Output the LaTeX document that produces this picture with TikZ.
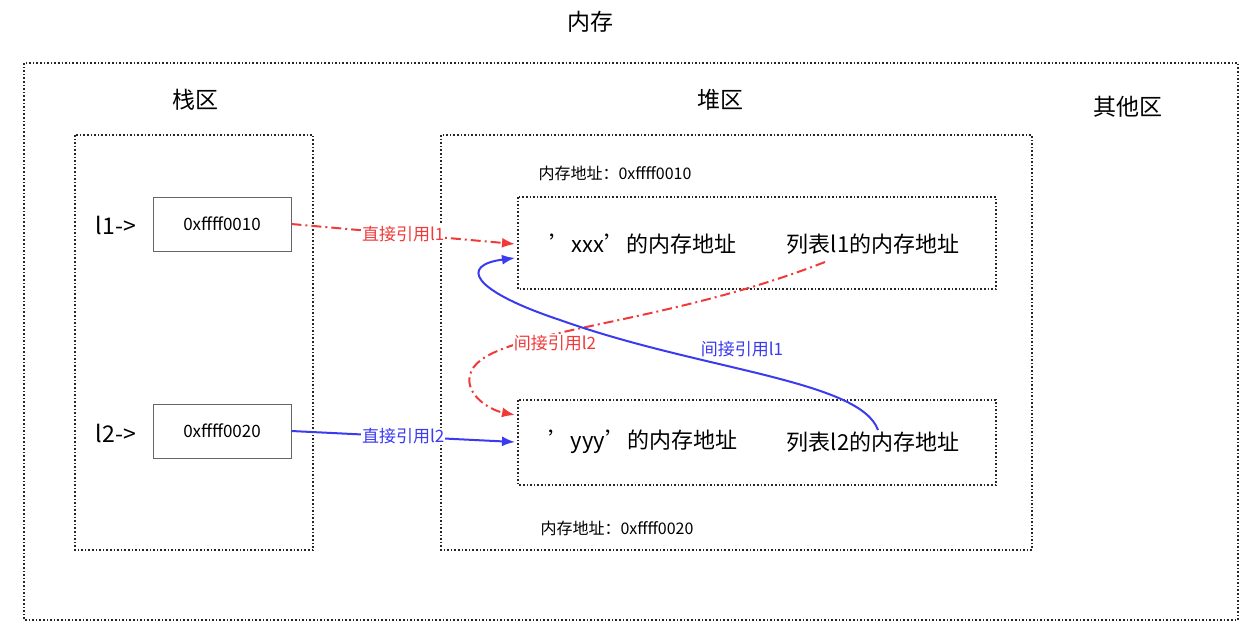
\documentclass[tikz,border=0pt]{standalone}
\usepackage{fontspec}
\setmainfont{Noto Sans CJK SC}
\usetikzlibrary{arrows.meta}
\definecolor{rd}{HTML}{F03A3A}
\definecolor{bl}{HTML}{3A3AF0}
\tikzset{
  dotbox/.style={draw=black!85,line width=1.6pt,dotted},
  addrbox/.style={draw=black!60,line width=0.9pt,minimum width=138pt,minimum height=54pt,font=\fontsize{17}{19}\selectfont},
  lab/.style={font=\fontsize{22}{25}\selectfont},
  small/.style={font=\fontsize{16}{18}\selectfont},
  big/.style={font=\fontsize{23}{26}\selectfont},
  redarr/.style={rd,line width=2pt,dash pattern=on 10pt off 4pt on 2pt off 4pt,-{Latex[length=13pt,width=10pt]}},
  bluearr/.style={bl,line width=2pt,-{Latex[length=13pt,width=10pt]}},
  rlab/.style={text=rd,font=\fontsize{17}{19}\selectfont,fill=white,inner sep=1pt},
  blab/.style={text=bl,font=\fontsize{17}{19}\selectfont,fill=white,inner sep=1pt},
}
\begin{document}
\begin{tikzpicture}[x=1pt,y=-1pt]
\useasboundingbox (0,0) rectangle (1256,638);
\node[big] (title) at (590,22) {内存};
\draw[dotbox] (24,63) rectangle (1238,620);
\node[big] (stackT) at (195,100) {栈区};
\node[big] (heapT) at (720,100) {堆区};
\node[big] (otherT) at (1128,107) {其他区};
\draw[dotbox] (75,135) rectangle (313,550);
\draw[dotbox] (441,135) rectangle (1032,550);
\node[small] (a1) at (615,173) {内存地址：0xffff0010};
\node[small] (a2) at (617,528) {内存地址：0xffff0020};
\draw[dotbox] (518,197) rectangle (996,289);
\draw[dotbox] (518,400) rectangle (996,485);
\coordinate (in1) at (515,244);
\coordinate (in1b) at (515,258);
\coordinate (in2) at (515,442);
\coordinate (in2b) at (515,415);
\node[lab] (x1) at (643,244) {\char39 xxx\char39 的内存地址};
\node[lab] (l1m) at (873,244) {列表l1的内存地址};
\node[lab] (y1) at (643,442) {\char39 yyy\char39 的内存地址};
\node[lab] (l2m) at (873,442) {列表l2的内存地址};
\node[addrbox] (b1) at (222,224) {0xffff0010};
\node[addrbox] (b2) at (222,431) {0xffff0020};
\node[big] (p1) at (116,225) {l1->};
\node[big] (p2) at (116,433) {l2->};
\draw[redarr] (b1.east) -- node[rlab,pos=0.5] {直接引用l1} (in1);
\draw[bluearr] (b2.east) -- node[blab,pos=0.5] {直接引用l2} (in2);
\draw[redarr] (825,262) .. controls (650,330) and (480,330) .. (470,375) .. controls (465,395) and (490,410) .. (in2b);
\node[rlab] (r2) at (555,343) {间接引用l2};
\draw[bluearr] (878,430) .. controls (860,380) and (700,370) .. (560,320) .. controls (470,290) and (460,265) .. (in1b);
\node[blab] (bl1) at (742,349) {间接引用l1};
\end{tikzpicture}
\end{document}
